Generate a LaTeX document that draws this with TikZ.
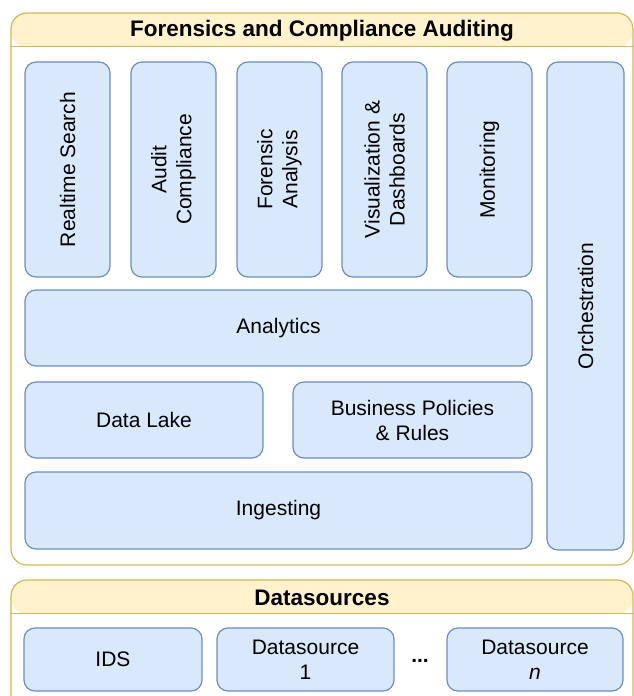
\documentclass[tikz,border=0pt]{standalone}
\usepackage{fontspec}
\setmainfont{Liberation Sans}
\definecolor{laneFill}{HTML}{FFF2CC}
\definecolor{laneLine}{HTML}{D6B656}
\definecolor{boxFill}{HTML}{DAE8FC}
\definecolor{boxLine}{HTML}{6C8EBF}

\begin{document}
\begin{tikzpicture}[x=1pt,y=-1pt,
  lane/.style={draw=laneLine, fill=white, line width=1.2pt, rounded corners=16pt,
    inner sep=0pt,
    path picture={\fill[laneFill] (path picture bounding box.north west)
      rectangle ([yshift=-34pt]path picture bounding box.north east);}},
  lanetitle/.style={font=\bfseries\fontsize{22.5}{27}\selectfont, inner sep=0pt},
  block/.style={draw=boxLine, fill=boxFill, line width=1.2pt, rounded corners=11pt,
    inner sep=0pt, align=center, font=\fontsize{21}{25}\selectfont},
  vblock/.style={block, rotate=90},
  bodytext/.style={font=\fontsize{21}{25}\selectfont, inner sep=0pt},
]
\useasboundingbox (0,0) rectangle (634,696);
\clip (0,0) rectangle (634,696);

% ---- Forensics and Compliance Auditing lane ----
\node[lane, minimum width=622pt, minimum height=552pt] (fca) at (322,289) {};
\draw[laneLine, line width=1.2pt] ([yshift=-34pt]fca.north west) -- ([yshift=-34pt]fca.north east);
\node[lanetitle] (fcatitle) at (322,31) {Forensics and Compliance Auditing};

% top row of services (vertical labels)
\node[vblock, minimum width=215pt, minimum height=85pt] (rs) at (67.5,169.5) {Realtime Search};
\node[vblock, minimum width=215pt, minimum height=85pt] (ac) at (173.5,169.5) {Audit\\Compliance};
\node[vblock, minimum width=215pt, minimum height=85pt] (fa) at (279.5,169.5) {Forensic\\Analysis};
\node[vblock, minimum width=215pt, minimum height=85pt] (vd) at (384.5,169.5) {Visualization \&\\Dashboards};
\node[vblock, minimum width=215pt, minimum height=85pt] (mo) at (489.5,169.5) {Monitoring};

% orchestration column
\node[vblock, minimum width=488pt, minimum height=77pt] (orch) at (585.5,306) {Orchestration};

% stacked layers
\node[block, minimum width=507pt, minimum height=76pt] (an) at (278.5,328) {Analytics};
\node[block, minimum width=238pt, minimum height=76pt] (dl) at (144,420) {Data Lake};
\node[block, minimum width=239pt, minimum height=76pt] (bp) at (412.5,420) {Business Policies\\\& Rules};
\node[block, minimum width=507pt, minimum height=77pt] (ing) at (278.5,510.5) {Ingesting};

% ---- Datasources lane ----
\node[lane, minimum width=622pt, minimum height=140pt] (dsl) at (322,650) {};
\draw[laneLine, line width=1.2pt] ([yshift=-34pt]dsl.north west) -- ([yshift=-34pt]dsl.north east);
\node[lanetitle] (dsltitle) at (322,598) {Datasources};

\node[block, minimum width=178pt, minimum height=63pt] (ids) at (113,659.5) {IDS};
\node[block, minimum width=177pt, minimum height=63pt] (ds1) at (305.5,659.5) {Datasource\\1};
\node[bodytext, font=\bfseries\fontsize{21}{25}\selectfont] (dots) at (420,661) {...};
\node[block, minimum width=176pt, minimum height=63pt] (dsn) at (535,659.5) {Datasource\\\textit{n}};
\end{tikzpicture}
\end{document}
